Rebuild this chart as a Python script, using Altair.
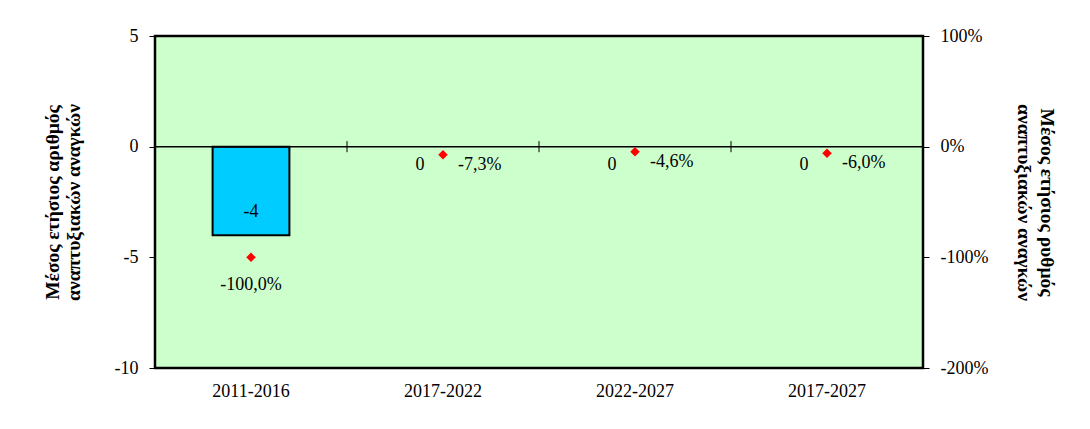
import altair as alt
import pandas as pd

categories = ["2011-2016", "2017-2022", "2022-2027", "2017-2027"]
needs = [-4, 0, 0, 0]
rates = [-1.000, -0.073, -0.046, -0.060]

df = pd.DataFrame({"cat": categories, "needs": needs, "rate": rates, "idx": list(range(len(categories)))})
df["needs_label"] = [str(v) for v in needs]
df["rate_label"] = [f"{r * 100:.1f}%".replace(".", ",") for r in rates]

FONT = "Liberation Serif"
FS = 18
TFS = 19.5

x_axis = alt.Axis(title=None, labelAngle=0, ticks=False, domain=False,
                  labelFont=FONT, labelFontSize=FS, labelColor="black",
                  labelPadding=14)
x_scale = alt.Scale(paddingInner=0, paddingOuter=0)
xenc = alt.X("cat:N", sort=categories, scale=x_scale, axis=x_axis)

yl_scale = alt.Scale(domain=[-10, 5], nice=False, zero=False)
yr_scale = alt.Scale(domain=[-2, 1], nice=False, zero=False)

left_axis = alt.Axis(values=[-10, -5, 0, 5], labelExpr="datum.value + ''",
                     title=["Μέσος ετήσιος αριθμός", "αναπτυξιακών αναγκών"],
                     titleFont=FONT, titleFontSize=TFS, titleFontWeight="bold",
                     titleColor="black", titlePadding=31, titleLineHeight=21,
                     labelFont=FONT, labelFontSize=FS, labelColor="black",
                     tickColor="black", tickSize=6, labelPadding=11,
                     domain=False, grid=False)
right_axis = alt.Axis(orient="right", values=[-2, -1, 0, 1],
                      labelExpr="(datum.value * 100) + '%'",
                      title=["Μέσος ετήσιος ρυθμός", "αναπτυξιακών αναγκών"],
                      titleFont=FONT, titleFontSize=TFS, titleFontWeight="bold",
                      titleColor="black", titlePadding=26, titleLineHeight=23,
                      titleAngle=90,
                      labelFont=FONT, labelFontSize=FS, labelColor="black",
                      tickColor="black", tickSize=6, labelPadding=11,
                      domain=False, grid=False)

base = alt.Chart(df)

bars = base.transform_filter("datum.needs != 0").mark_bar(
    width=alt.RelativeBandSize(0.4), color="#00CCFF", stroke="black", strokeWidth=2
).encode(x=xenc, y=alt.Y("needs:Q", scale=yl_scale, axis=left_axis), y2=alt.Y2Datum(0))

zero_line = base.mark_rule(color="black", strokeWidth=1).encode(
    y=alt.YDatum(0, scale=yl_scale, axis=left_axis))

ticks = base.mark_rule(color="black", strokeWidth=1).encode(
    x=alt.X("cat:N", sort=categories, bandPosition=0, scale=x_scale, axis=x_axis),
    y=alt.YDatum(0.25, scale=yl_scale, axis=left_axis), y2=alt.Y2Datum(-0.25))

bar_labels = base.transform_filter("datum.needs != 0").mark_text(
    font=FONT, fontSize=FS, color="black", baseline="middle", dy=-23
).encode(x=xenc, y=alt.Y("needs:Q", scale=yl_scale, axis=left_axis), text="needs_label:N")

zero_labels = base.transform_filter("datum.needs == 0").mark_text(
    font=FONT, fontSize=FS, color="black", baseline="middle", dx=-23, dy=18
).encode(x=xenc, y=alt.Y("needs:Q", scale=yl_scale, axis=left_axis), text="needs_label:N")

left = alt.layer(bars, zero_line, ticks, bar_labels, zero_labels)

points = base.mark_point(shape="diamond", filled=True, color="#FF0000", size=90, opacity=1).encode(
    x=xenc, y=alt.Y("rate:Q", scale=yr_scale, axis=right_axis))

pt_label_first = base.transform_filter("datum.idx == 0").mark_text(
    font=FONT, fontSize=FS, color="black", baseline="middle", dy=28
).encode(x=xenc, y=alt.Y("rate:Q", scale=yr_scale, axis=right_axis), text="rate_label:N")

pt_label_rest = base.transform_filter("datum.idx > 0").mark_text(
    font=FONT, fontSize=FS, color="black", baseline="middle", align="left", dx=15, dy=10
).encode(x=xenc, y=alt.Y("rate:Q", scale=yr_scale, axis=right_axis), text="rate_label:N")

right = alt.layer(points, pt_label_first, pt_label_rest)

chart = alt.layer(left, right).resolve_scale(y="independent").properties(
    width=768, height=332,
    autosize=alt.AutoSizeParams(type="none"),
    padding={"left": 147, "top": 28, "right": 159, "bottom": 53},
    background="white",
).configure_view(fill="#CCFFCC", stroke="black", strokeWidth=2.5)

chart.save("out.html", embed_options={"renderer": "svg", "actions": False})
